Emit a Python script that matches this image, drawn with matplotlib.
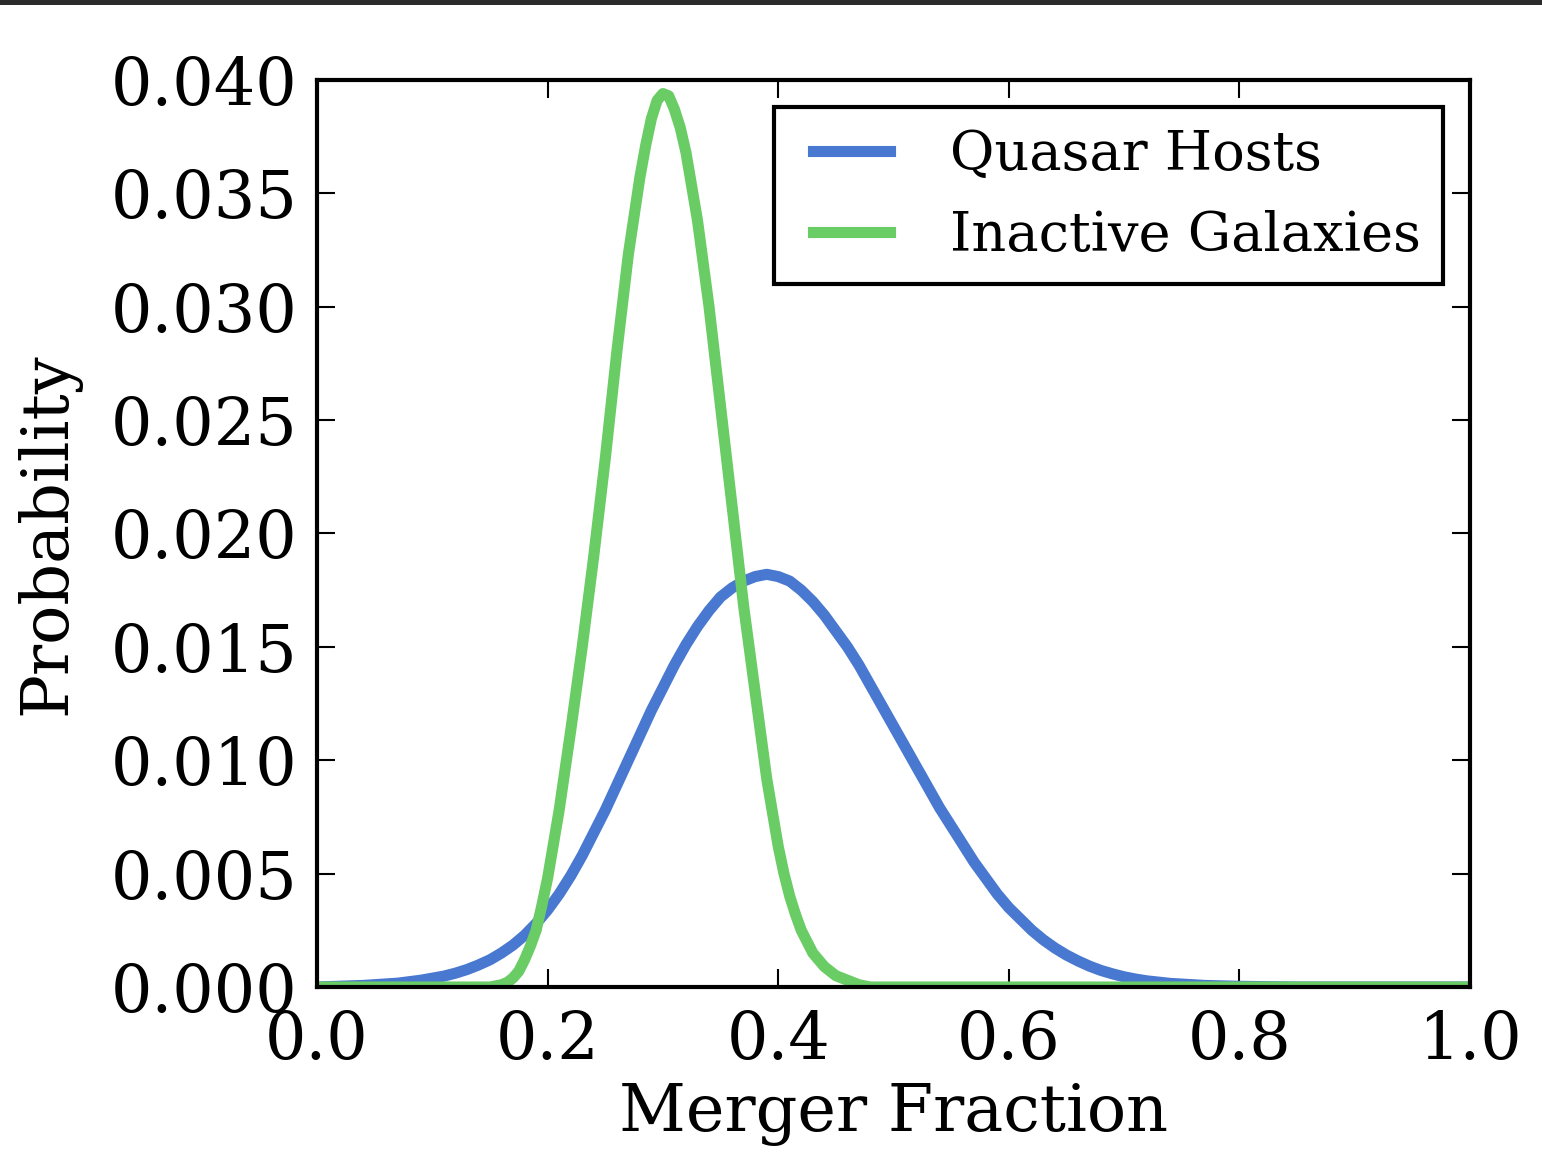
import matplotlib
matplotlib.use("Agg")
import matplotlib.pyplot as plt
from matplotlib.patches import Rectangle
from matplotlib.legend_handler import HandlerLine2D

# values
quasar_x = [0.00, 0.04, 0.07, 0.09, 0.11, 0.12, 0.13, 0.14, 0.15, 0.16,
            0.17, 0.18, 0.19, 0.20, 0.21, 0.22, 0.23, 0.24, 0.25, 0.26,
            0.27, 0.28, 0.29, 0.30, 0.31, 0.32, 0.33, 0.34, 0.35, 0.36,
            0.37, 0.38, 0.39, 0.40, 0.41, 0.42, 0.43, 0.44, 0.45, 0.46,
            0.47, 0.48, 0.49, 0.50, 0.51, 0.52, 0.53, 0.54, 0.55, 0.56,
            0.57, 0.58, 0.59, 0.60, 0.61, 0.62, 0.63, 0.64, 0.65, 0.66,
            0.67, 0.68, 0.69, 0.70, 0.71, 0.72, 0.74, 0.77, 0.80, 0.85, 1.00]
quasar_p = [0.00000, 0.00007, 0.00017, 0.00030, 0.00048, 0.00061, 0.00077, 0.00097, 0.00120, 0.00150,
            0.00185, 0.00228, 0.00280, 0.00340, 0.00410, 0.00490, 0.00580, 0.00680, 0.00780, 0.00890,
            0.01000, 0.01110, 0.01220, 0.01320, 0.01420, 0.01510, 0.01590, 0.01660, 0.01720, 0.01760,
            0.01790, 0.01810, 0.01820, 0.01810, 0.01790, 0.01750, 0.01700, 0.01640, 0.01570, 0.01500,
            0.01420, 0.01330, 0.01240, 0.01150, 0.01060, 0.00970, 0.00880, 0.00790, 0.00710, 0.00630,
            0.00550, 0.00480, 0.00410, 0.00350, 0.00300, 0.00250, 0.00208, 0.00172, 0.00141, 0.00115,
            0.00092, 0.00073, 0.00058, 0.00045, 0.00035, 0.00027, 0.00016, 0.00007, 0.00003, 0.00000,
            0.00000]

inactive_x = [0.00, 0.15, 0.16, 0.165, 0.17, 0.175, 0.18, 0.185, 0.19, 0.195,
              0.20, 0.21, 0.22, 0.23, 0.24, 0.25, 0.26, 0.27, 0.28, 0.285,
              0.29, 0.295, 0.30, 0.305, 0.31, 0.315, 0.32, 0.33, 0.34, 0.35,
              0.36, 0.37, 0.38, 0.39, 0.40, 0.405, 0.41, 0.415, 0.42, 0.425,
              0.43, 0.435, 0.44, 0.45, 0.46, 0.47, 0.48, 1.00]
inactive_p = [0.0000, 0.0000, 0.0001, 0.0002, 0.0004, 0.0007, 0.0012, 0.0018, 0.0025, 0.0036,
              0.0048, 0.0078, 0.0113, 0.0150, 0.0190, 0.0233, 0.0280, 0.0323, 0.0357, 0.0371,
              0.0383, 0.0391, 0.0394, 0.0393, 0.0387, 0.0379, 0.0368, 0.0338, 0.0300, 0.0256,
              0.0212, 0.0168, 0.0130, 0.0092, 0.0062, 0.0050, 0.0040, 0.0032, 0.0025, 0.0020,
              0.0015, 0.0012, 0.0009, 0.0005, 0.0003, 0.0001, 0.0000, 0.0000]

x_ticks = [0.0, 0.2, 0.4, 0.6, 0.8, 1.0]
y_ticks = [0.000, 0.005, 0.010, 0.015, 0.020, 0.025, 0.030, 0.035, 0.040]

plt.rcParams["font.family"] = "serif"
plt.rcParams["font.serif"] = ["DejaVu Serif"]

fig = plt.figure(figsize=(15.42, 11.54), dpi=100)
ax = fig.add_axes([0.2056, 0.1447, 0.7477, 0.786])

ax.plot(quasar_x, quasar_p, color="#4878CF", lw=8, solid_joinstyle="round",
        label="Quasar Hosts")
ax.plot(inactive_x, inactive_p, color="#6ACC65", lw=8, solid_joinstyle="round",
        label="Inactive Galaxies")

ax.set_xlim(0, 1)
ax.set_ylim(0, 0.04)
ax.set_xticks(x_ticks)
ax.set_yticks(y_ticks)
ax.set_xticklabels(["%.1f" % v for v in x_ticks])
ax.set_yticklabels(["%.3f" % v for v in y_ticks])
ax.tick_params(direction="in", length=13, width=1.5, top=True, right=True,
               labelsize=47, pad=14)
ax.tick_params(axis="x", pad=16)
for s in ax.spines.values():
    s.set_linewidth(3)

ax.set_xlabel("Merger Fraction", fontsize=47, labelpad=6)
ax.set_ylabel("Probability", fontsize=47, labelpad=21.5)

leg = ax.legend(loc="upper right", fontsize=39, fancybox=False, framealpha=1,
                handlelength=1.73, handletextpad=1.12, borderaxespad=0.5,
                borderpad=0.4, labelspacing=0.54,
                handler_map={ax.lines[0]: HandlerLine2D(xpad=0.31),
                             ax.lines[1]: HandlerLine2D(xpad=0.31)})
leg.get_frame().set_edgecolor("black")
leg.get_frame().set_linewidth(3)

# dark strip along the top edge of the screenshot
fig.patches.append(Rectangle((0, 0.996), 1, 0.004, transform=fig.transFigure,
                             facecolor="#2b2b2b", edgecolor="none"))

fig.savefig("out.png", dpi=100)
